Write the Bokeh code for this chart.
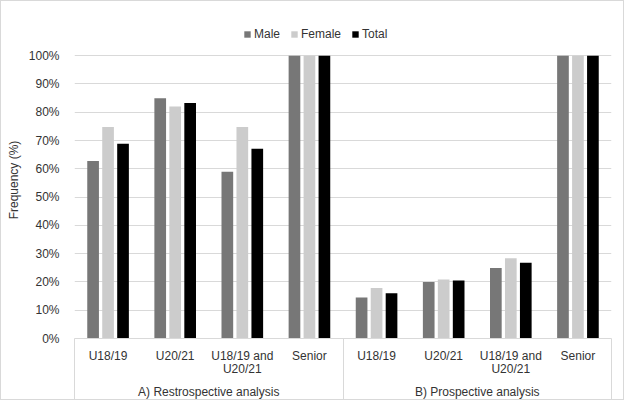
from bokeh.plotting import figure
from bokeh.models import (Range1d, LinearAxis, FixedTicker, ColumnDataSource,
                          Legend, LegendItem, PrintfTickFormatter)
from bokeh.transform import dodge
from bokeh.embed import file_html
from bokeh.resources import INLINE

groups = ["A) Restrospective analysis", "B) Prospective analysis"]
categories = ["U18/19", "U20/21", "U18/19 and\nU20/21", "Senior"]
series = ["Male", "Female", "Total"]
male = [62.8, 85.0, 59.0, 100.0, 14.5, 20.0, 24.9, 100.0]
female = [74.8, 82.0, 74.8, 100.0, 17.9, 20.9, 28.4, 100.0]
total = [68.9, 83.3, 67.1, 100.0, 16.0, 20.5, 26.8, 100.0]
y_ticks = [0, 10, 20, 30, 40, 50, 60, 70, 80, 90, 100]
colors = ["#777777", "#cccccc", "#000000"]

FONT = "Liberation Sans"
TXT = "#333333"

factors = [(g, c) for g in groups for c in categories]
n = len(categories)
pos = [i + 0.5 for i in range(len(factors))]   # slot centres on the category scale
src = ColumnDataSource(dict(pos=pos, Male=male, Female=female, Total=total))

# frame extends above 100% to host the legend (gridlines stop at 100%)
p = figure(width=624, height=400, x_range=Range1d(0, len(factors)), y_range=Range1d(0, 112.1),
           output_backend="svg", toolbar_location=None, x_axis_location=None,
           min_border_left=73, min_border_right=14, min_border_top=20, min_border_bottom=63)
p.outline_line_color = None
p.styles = {"border": "1px solid #d9d9d9", "box-sizing": "border-box"}

offsets = [-0.223, 0.0, 0.223]
items = []
for s, off, col in zip(series, offsets, colors):
    r = p.vbar(x=dodge("pos", off), top=s, width=0.174, bottom=0,
               source=src, fill_color=col, line_color=None)
    items.append(LegendItem(label=s, renderers=[r]))

legend = Legend(items=items, orientation="horizontal", location=(169, 297),
                glyph_width=8, glyph_height=8, label_standoff=3, spacing=10,
                padding=4, margin=0, border_line_color=None, background_fill_alpha=0,
                label_text_font=FONT, label_text_font_size="12px", label_text_color=TXT)
p.add_layout(legend)

# y axis
p.yaxis.ticker = FixedTicker(ticks=y_ticks)
p.yaxis.formatter = PrintfTickFormatter(format="%d%%")
p.yaxis.axis_line_color = None
p.yaxis.major_tick_line_color = None
p.yaxis.minor_tick_line_color = None
p.yaxis.major_label_standoff = 9
p.yaxis.major_label_text_font = FONT
p.yaxis.major_label_text_font_size = "12px"
p.yaxis.major_label_text_color = TXT
p.yaxis.axis_label = "Frequency (%)"
p.yaxis.axis_label_text_font = FONT
p.yaxis.axis_label_text_font_size = "12px"
p.yaxis.axis_label_text_font_style = "normal"
p.yaxis.axis_label_text_color = TXT
p.yaxis.axis_label_standoff = 5
p.ygrid.ticker = FixedTicker(ticks=y_ticks)
p.ygrid.grid_line_color = "#d9d9d9"
p.xgrid.visible = False

# x axis: category labels + group separators (minor ticks at group edges)
SEP = 61
overrides = {c: f[1] for c, f in zip(pos, factors)}
ax1 = LinearAxis(ticker=FixedTicker(ticks=pos, minor_ticks=[0, n, 2 * n]),
                 major_label_overrides=overrides)
ax1.axis_line_color = "#d9d9d9"
ax1.major_tick_line_color = None
ax1.major_tick_out = 0
ax1.major_tick_in = 0
ax1.minor_tick_line_color = "#d9d9d9"
ax1.minor_tick_out = SEP
ax1.minor_tick_in = 0
ax1.major_label_standoff = 10 - SEP
ax1.major_label_text_font = FONT
ax1.major_label_text_font_size = "12px"
ax1.major_label_text_color = TXT
ax1.major_label_text_line_height = 0.95
p.add_layout(ax1, "below")

gcenters = [n / 2, n + n / 2]
ax2 = LinearAxis(ticker=FixedTicker(ticks=gcenters, minor_ticks=[]),
                 major_label_overrides={c: g for c, g in zip(gcenters, groups)})
ax2.axis_line_color = None
ax2.major_tick_line_color = None
ax2.major_tick_out = 0
ax2.major_tick_in = 0
ax2.minor_tick_line_color = None
ax2.minor_tick_out = 0
ax2.major_label_standoff = 6
ax2.major_label_text_font = FONT
ax2.major_label_text_font_size = "12px"
ax2.major_label_text_color = TXT
p.add_layout(ax2, "below")

open("out.html", "w").write(file_html(p, INLINE))
